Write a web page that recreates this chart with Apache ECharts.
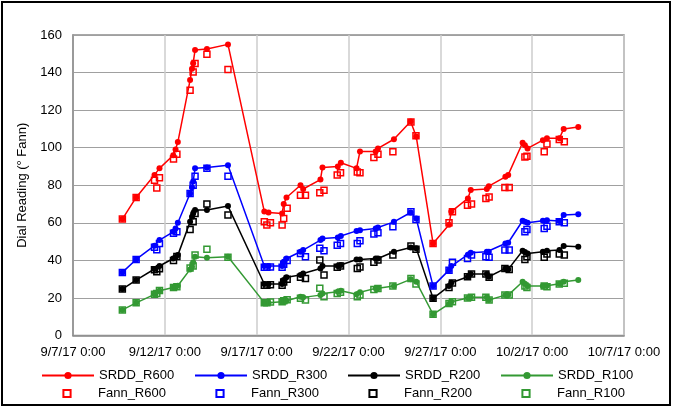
<!DOCTYPE html>
<html><head><meta charset="utf-8">
<script src="https://cdn.jsdelivr.net/npm/echarts@6/dist/echarts.min.js"></script>
<style>html,body{margin:0;padding:0;background:#fff}#c{width:673px;height:408px}</style>
</head><body><div id="c"></div>
<script>
const xStart = '2017-09-07T00:00';
const xTickLabels = ['9/7/17 0:00','9/12/17 0:00','9/17/17 0:00','9/22/17 0:00','9/27/17 0:00','10/2/17 0:00','10/7/17 0:00'];
const yTitle = 'Dial Reading (\u00b0 Fann)';

const srddTimes = ["2017-09-09T16:30","2017-09-10T10:30","2017-09-11T10:30","2017-09-11T17:00","2017-09-12T11:00","2017-09-12T14:00","2017-09-12T17:00","2017-09-13T09:00","2017-09-13T11:30","2017-09-13T13:00","2017-09-13T15:30","2017-09-14T07:00","2017-09-15T10:30","2017-09-17T10:00","2017-09-17T15:30","2017-09-18T09:15","2017-09-18T11:20","2017-09-18T15:00","2017-09-19T09:15","2017-09-19T12:45","2017-09-20T11:20","2017-09-20T14:00","2017-09-21T10:00","2017-09-21T14:00","2017-09-22T10:30","2017-09-22T15:00","2017-09-23T11:30","2017-09-23T14:30","2017-09-24T11:20","2017-09-25T09:15","2017-09-25T16:30","2017-09-26T14:30","2017-09-27T11:20","2017-09-27T14:20","2017-09-28T12:00","2017-09-28T15:45","2017-09-29T12:45","2017-09-29T15:20","2017-09-30T13:00","2017-09-30T16:40","2017-10-01T11:30","2017-10-01T14:30","2017-10-01T18:00","2017-10-02T14:00","2017-10-02T19:20","2017-10-03T11:40","2017-10-03T17:10","2017-10-04T12:15"];
const srddR600 = [62,73.5,85.5,89,96,99,103,136,142,145,152,152.5,155,66,65.5,65,70,73.5,80,78,83,89.5,90,92,89,98,98,99.6,104.5,114,106,49,59,66,73,77.5,78,79.5,84.5,85.5,102.6,101.3,99.6,104,105,105,110,111];
const srddR300 = [33.6,40.5,47.8,50.8,55.2,57,60,75.6,79,82,89,89.5,90.7,37,37,37,39.3,41,44.6,45.5,50.8,51.7,52.2,53,55.7,56,57,57.5,60.5,65.5,62.3,26.3,34.8,37,43,44,44.6,44.6,49,49.4,61.1,60.5,60,61.1,61.4,61,64.1,64.5];
const srddR200 = [24.7,29.5,35.4,37,41,41.6,42.8,60.5,63.2,65,66.8,66.8,68.9,27.4,27.4,27.4,29.5,31,32.2,33,35.7,37,37,37.5,40.5,40.5,41,41,44.6,46.9,46.4,19.8,26.3,28.1,31.3,32.7,32.7,31.3,35.7,35.2,45.1,44.5,43.7,44.6,45.1,45.5,47.6,47.2];
const srddR100 = [13.6,17.4,21.9,23.8,25.6,26,26.5,35.2,36.6,39,41.9,41.4,41.9,17.5,17.5,18,18.2,18.5,20.6,20.3,21.5,22.4,23.3,23.8,22,23,25.1,25.1,26.3,29.9,28.6,11.3,16.8,18,20,20.3,20.3,18.9,21.5,21.5,28.6,27.5,26.3,26.3,26.5,27.5,28.6,29.5];

const fannTimes = ["2017-09-09T16:30","2017-09-10T10:30","2017-09-11T10:30","2017-09-11T13:30","2017-09-11T17:00","2017-09-12T11:20","2017-09-12T15:45","2017-09-13T09:00","2017-09-13T13:00","2017-09-13T15:30","2017-09-14T07:00","2017-09-15T10:30","2017-09-17T10:00","2017-09-17T13:20","2017-09-17T18:00","2017-09-18T09:15","2017-09-18T11:20","2017-09-18T15:50","2017-09-19T09:15","2017-09-19T15:45","2017-09-20T10:30","2017-09-20T16:00","2017-09-21T09:15","2017-09-21T13:35","2017-09-22T11:30","2017-09-22T15:00","2017-09-23T09:10","2017-09-23T14:30","2017-09-24T10:00","2017-09-25T09:35","2017-09-25T16:10","2017-09-26T14:30","2017-09-27T11:20","2017-09-27T15:50","2017-09-28T11:30","2017-09-28T16:45","2017-09-29T11:30","2017-09-29T15:45","2017-09-30T12:20","2017-09-30T18:00","2017-10-01T14:30","2017-10-01T17:10","2017-10-02T15:45","2017-10-02T19:20","2017-10-03T11:25","2017-10-03T18:00"];
const fannR600 = [62,73.5,82.7,78.6,84,94,96.5,130.6,140.3,144.8,149.7,141.6,60.5,58.8,60,58.8,62.3,67.7,74.7,74.7,76,77.4,85.4,86.6,87.1,86.6,94.8,96.5,97.8,113.7,106.3,49,60,65.9,69.4,70,73,73.8,78.8,78.8,95.1,95.5,97.8,101.9,104.4,103.1];
const fannR300 = [33.6,40.5,47,45.7,49,54.4,55.2,75.6,80,84.8,89,84.8,36.3,36.3,36.5,36.3,38,40,43.7,41.9,46.4,45.1,48,49,49,50.5,54,54.7,57.9,65.9,61.8,26.3,34.8,39,41,42.8,41.9,41.6,45.5,45.5,55.2,56.5,57,58.2,60.5,60];
const fannR200 = [24.7,29.5,35,34,35.5,40,42,56.5,60.5,65,70,64.1,26.7,26.7,27,26.7,28.5,30,31,30.4,40.2,32.2,36.3,37,35.7,36.5,39,40.2,42.8,47.6,45.9,19.8,25.6,28,31.3,32.7,32.7,31,35.7,35.2,40.5,41.9,41.6,43.4,43.4,42.8];
const fannR100 = [13.6,17.4,21.9,22.4,24,25.6,26,36,37,42.8,45.9,41.6,17.5,17.5,17.8,18,18.5,19,19.8,18.9,25.1,20.6,22.4,23,20.6,21.5,24.5,25,26.3,30.4,27.4,11.3,17.1,18,20,20.3,20.3,18.9,21.5,21.5,26.3,25.5,26.3,26,27.4,27.8];

const seriesNames = ['SRDD_R600','SRDD_R300','SRDD_R200','SRDD_R100','Fann_R600','Fann_R300','Fann_R200','Fann_R100'];
const colors = ['#ff0000','#0000ff','#000000','#339933'];

const t0 = new Date(xStart).getTime();
const toDay = s => (new Date(s).getTime() - t0) / 86400000;
const pairs = (times, vals) => times.map((t, i) => [toDay(t), vals[i]]);

const FONT = 'Liberation Sans, Arial, sans-serif';
const srddVals = [srddR600, srddR300, srddR200, srddR100];
const fannVals = [fannR600, fannR300, fannR200, fannR100];

const series = [];
srddVals.forEach((v, i) => series.push({
  name: seriesNames[i], type: 'line', data: pairs(srddTimes, v),
  symbol: 'circle', symbolSize: 6, showAllSymbol: true,
  lineStyle: {color: colors[i], width: 1.5}, itemStyle: {color: colors[i]},
  emphasis: {disabled: true}, z: 2
}));
fannVals.forEach((v, i) => series.push({
  name: seriesNames[4 + i], type: 'line', data: pairs(fannTimes, v),
  symbol: 'rect', symbolSize: 6, showAllSymbol: true,
  lineStyle: {width: 0, color: colors[i]},
  itemStyle: {color: 'rgba(255,255,255,0)', borderColor: colors[i], borderWidth: 1.5},
  emphasis: {disabled: true}, z: 3
}));

const legendCols = [41, 194, 347, 500];
const legends = seriesNames.map((n, i) => ({
  data: [n], left: legendCols[i % 4], top: i < 4 ? 369 : 387,
  itemWidth: 52, itemHeight: 9, padding: 0, itemGap: 0,
  textStyle: {fontSize: 13, fontFamily: FONT, color: '#000'}
}));

const chart = echarts.init(document.getElementById('c'), null, {renderer: 'canvas'});
chart.setOption({
  animation: false,
  backgroundColor: '#fff',
  textStyle: {fontFamily: FONT},
  grid: {left: 73, top: 35, right: 49, bottom: 72.5, show: true, borderColor: '#8c8c8c', borderWidth: 1.5},
  xAxis: {
    type: 'value', min: 0, max: 30, interval: 5,
    axisLine: {show: true, lineStyle: {color: '#8c8c8c', width: 1.5}},
    axisTick: {show: false},
    splitLine: {show: true, lineStyle: {color: '#cccccc', width: 1.5}},
    axisLabel: {fontSize: 13, color: '#000', fontFamily: FONT, margin: 10, formatter: v => xTickLabels[Math.round(v / 5)]}
  },
  yAxis: {
    type: 'value', min: 0, max: 160, interval: 20,
    name: yTitle, nameLocation: 'middle', nameGap: 39, nameRotate: 90,
    nameTextStyle: {fontSize: 13, color: '#000', fontFamily: FONT},
    axisLine: {show: true, lineStyle: {color: '#8c8c8c', width: 1.5}},
    axisTick: {show: false},
    splitLine: {show: true, lineStyle: {color: '#a0a0a0', width: 1.2}},
    axisLabel: {fontSize: 13, color: '#000', fontFamily: FONT, margin: 11}
  },
  legend: legends,
  graphic: [{type: 'rect', shape: {x: 2, y: 2, width: 668, height: 403}, style: {fill: 'none', stroke: '#000', lineWidth: 2}, silent: true}],
  series: series
});
</script>
</body></html>
